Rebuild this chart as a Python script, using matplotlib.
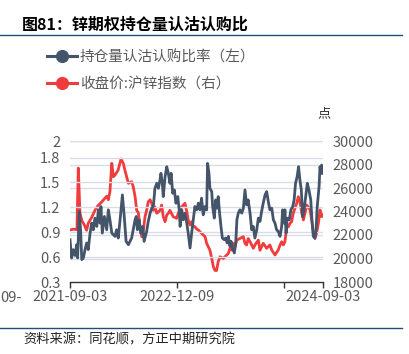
import matplotlib
matplotlib.use("Agg")
import matplotlib.pyplot as plt
from matplotlib.lines import Line2D
import pandas as pd

plt.rcParams['font.family'] = ['Noto Sans CJK SC', 'DejaVu Sans']

# 持仓量认沽认购比率（左轴）
ratio_dates = [
    "2021-09-03", "2021-09-10", "2021-09-17", "2021-09-25", "2021-10-02", "2021-10-06",
    "2021-10-13", "2021-10-19", "2021-10-24", "2021-10-31", "2021-11-07", "2021-11-14",
    "2021-11-21", "2021-11-29", "2021-12-06", "2021-12-13", "2021-12-20", "2021-12-28",
    "2022-01-04", "2022-01-11", "2022-01-15", "2022-01-21", "2022-01-30", "2022-02-09",
    "2022-02-16", "2022-02-23", "2022-03-03", "2022-03-17", "2022-03-24", "2022-03-31",
    "2022-04-08", "2022-04-18", "2022-04-26", "2022-05-04", "2022-05-14", "2022-05-28",
    "2022-06-04", "2022-06-12", "2022-06-17", "2022-06-22", "2022-06-30", "2022-07-06",
    "2022-07-15", "2022-07-21", "2022-08-01", "2022-08-08", "2022-08-16", "2022-08-23",
    "2022-08-30", "2022-09-06", "2022-09-14", "2022-09-21", "2022-09-28", "2022-10-02",
    "2022-10-08", "2022-10-12", "2022-10-20", "2022-10-27", "2022-11-03", "2022-11-10",
    "2022-11-15", "2022-11-22", "2022-11-29", "2022-12-06", "2022-12-14", "2022-12-20",
    "2022-12-24", "2022-12-31", "2023-01-07", "2023-01-14", "2023-01-22", "2023-01-28",
    "2023-02-05", "2023-02-12", "2023-02-19", "2023-02-26", "2023-03-06", "2023-03-13",
    "2023-03-20", "2023-03-27", "2023-04-03", "2023-04-11", "2023-04-18", "2023-04-22",
    "2023-04-28", "2023-05-02", "2023-05-10", "2023-05-14", "2023-05-21", "2023-05-27",
    "2023-06-02", "2023-06-07", "2023-06-13", "2023-06-19", "2023-06-25", "2023-07-03",
    "2023-07-09", "2023-07-16", "2023-07-21", "2023-07-28", "2023-08-02", "2023-08-07",
    "2023-08-16", "2023-08-22", "2023-08-27", "2023-09-02", "2023-09-09", "2023-09-17",
    "2023-09-24", "2023-10-01", "2023-10-08", "2023-10-15", "2023-10-23", "2023-10-30",
    "2023-11-06", "2023-11-13", "2023-11-21", "2023-11-28", "2023-12-05", "2023-12-12",
    "2023-12-19", "2023-12-27", "2024-01-03", "2024-01-10", "2024-01-17", "2024-01-25",
    "2024-02-01", "2024-02-08", "2024-02-15", "2024-02-22", "2024-03-01", "2024-03-08",
    "2024-03-12", "2024-03-18", "2024-03-22", "2024-03-27", "2024-04-01", "2024-04-10",
    "2024-04-17", "2024-04-25", "2024-05-01", "2024-05-07", "2024-05-14", "2024-05-20",
    "2024-05-26", "2024-06-01", "2024-06-07", "2024-06-13", "2024-06-20", "2024-06-27",
    "2024-07-04", "2024-07-12", "2024-07-17", "2024-07-23", "2024-07-30", "2024-08-04",
    "2024-08-09", "2024-08-17", "2024-08-21", "2024-08-25", "2024-08-28", "2024-09-03",
]
ratio_values = [
    0.81, 0.59, 0.69, 0.62, 0.75, 0.59,
    1.15, 0.92, 0.57, 0.59, 0.69, 0.77,
    0.69, 0.89, 1.01, 0.93, 1.07, 0.97,
    1.17, 1.01, 1.21, 0.89, 1.09, 0.93,
    1.17, 1.05, 0.89, 0.85, 0.93, 0.83,
    1.05, 1.35, 1.09, 0.79, 0.75, 0.83,
    0.93, 1.05, 1.09, 0.93, 1.05, 0.89,
    0.97, 0.79, 0.91, 1.03, 1.13, 1.19,
    1.21, 1.43, 1.49, 1.43, 1.53, 1.61,
    1.49, 1.33, 1.57, 1.69, 1.61, 1.49,
    1.61, 1.37, 1.41, 1.25, 1.33, 1.17,
    0.97, 1.17, 1.05, 1.13, 1.01, 0.89,
    0.71, 0.89, 1.05, 1.21, 1.17, 1.25,
    1.17, 1.31, 1.11, 1.21, 1.17, 1.73,
    1.61, 1.43, 1.39, 1.21, 1.07, 1.29,
    1.19, 1.33, 1.13, 0.97, 0.83, 0.81,
    0.83, 0.77, 0.85, 0.73, 0.79, 0.71,
    0.65, 0.77, 1.05, 1.13, 1.17, 1.13,
    1.19, 1.41, 1.23, 1.29, 1.13, 0.93,
    0.97, 0.83, 0.93, 1.07, 1.03, 1.15,
    1.25, 1.35, 1.39, 1.27, 1.17, 1.19,
    1.05, 1.01, 0.93, 0.91, 0.85, 0.97,
    1.17, 1.01, 1.17, 0.89, 1.07, 1.05,
    1.17, 1.21, 1.29, 1.49, 1.57, 1.69,
    1.53, 1.41, 1.09, 1.17, 1.33, 1.49,
    1.41, 1.29, 1.05, 0.85, 0.83, 0.93,
    1.21, 1.45, 1.69, 1.61, 1.71, 1.61,
]

# 收盘价:沪锌指数（右轴）
zinc_dates = [
    "2021-09-03", "2021-09-20", "2021-10-03", "2021-10-09", "2021-10-16", "2021-10-25",
    "2021-11-03", "2021-11-14", "2021-11-21", "2021-12-06", "2021-12-20", "2022-01-02",
    "2022-01-18", "2022-02-02", "2022-02-09", "2022-02-16", "2022-02-23", "2022-03-03",
    "2022-03-10", "2022-03-17", "2022-03-30", "2022-04-12", "2022-04-22", "2022-04-29",
    "2022-05-14", "2022-05-28", "2022-06-04", "2022-06-12", "2022-06-19", "2022-06-26",
    "2022-07-03", "2022-07-11", "2022-07-18", "2022-07-25", "2022-08-01", "2022-08-08",
    "2022-08-16", "2022-08-23", "2022-08-30", "2022-09-06", "2022-09-14", "2022-09-28",
    "2022-10-05", "2022-10-12", "2022-10-20", "2022-10-27", "2022-11-03", "2022-11-10",
    "2022-11-24", "2022-12-09", "2022-12-16", "2022-12-31", "2023-01-14", "2023-01-22",
    "2023-01-28", "2023-02-05", "2023-02-12", "2023-02-19", "2023-02-26", "2023-03-06",
    "2023-03-13", "2023-03-27", "2023-04-11", "2023-04-18", "2023-05-02", "2023-05-10",
    "2023-05-17", "2023-05-24", "2023-05-31", "2023-06-07", "2023-06-15", "2023-06-29",
    "2023-07-14", "2023-07-21", "2023-07-28", "2023-08-04", "2023-08-11", "2023-08-19",
    "2023-08-26", "2023-09-09", "2023-09-24", "2023-10-01", "2023-10-08", "2023-10-15",
    "2023-10-23", "2023-11-06", "2023-11-13", "2023-11-28", "2023-12-05", "2023-12-19",
    "2024-01-03", "2024-01-17", "2024-01-25", "2024-02-08", "2024-02-22", "2024-03-01",
    "2024-03-08", "2024-03-15", "2024-03-22", "2024-03-30", "2024-04-06", "2024-04-13",
    "2024-04-20", "2024-04-27", "2024-05-12", "2024-05-19", "2024-05-26", "2024-06-03",
    "2024-06-10", "2024-06-17", "2024-06-24", "2024-07-01", "2024-07-09", "2024-07-16",
    "2024-07-23", "2024-07-30", "2024-08-06", "2024-08-14", "2024-08-21", "2024-08-28",
    "2024-09-03",
]
zinc_values = [
    22430, 22500, 22450, 27700, 23870, 23200,
    22900, 22400, 23000, 23500, 24100, 24500,
    24800, 25150, 25300, 25000, 25700, 28100,
    26960, 27100, 27500, 28470, 28100, 27500,
    26400, 26540, 26100, 25260, 24100, 23900,
    22700, 21850, 22430, 23560, 24100, 24830,
    25000, 24700, 24100, 24400, 23850, 24100,
    24550, 23560, 23130, 23700, 23850, 24100,
    23560, 23420, 23850, 24400, 24700, 23990,
    23280, 22850, 23130, 22700, 22700, 22500,
    22430, 22140, 21860, 21290, 20720, 20000,
    19300, 18980, 18980, 19730, 20150, 20000,
    20300, 20440, 20870, 20720, 21290, 21000,
    21570, 21700, 21860, 21290, 21150, 21700,
    21430, 20870, 21150, 21570, 20700, 21290,
    20870, 21150, 20720, 20300, 20720, 21150,
    21430, 21150, 21430, 22700, 22700, 22990,
    23130, 23850, 24700, 25260, 24830, 23850,
    23280, 23850, 24550, 24400, 24130, 23280,
    22280, 21700, 22140, 23000, 24130, 23560,
    23700,
]

left_ticks = [0.3, 0.6, 0.9, 1.2, 1.5, 1.8, 2.0]
left_labels = ["0.3", "0.6", "0.9", "1.2", "1.5", "1.8", "2"]
right_ticks = [18000, 20000, 22000, 24000, 26000, 28000, 30000]
x_ticks = ["2021-09-03", "2022-12-09", "2024-03-16", "2024-09-03"]
x_labels = ["2021-09-03", "2022-12-09", "", "2024-09-03"]

BLUE = "#44546A"
RED = "#F03C3C"
GRID = "#DADDE8"
TXT = "#595959"

W, H = 409, 354
fig = plt.figure(figsize=(W / 100, H / 100), dpi=100)
ax = fig.add_axes([70 / W, 1 - 282 / H, 253 / W, 141 / H])
ax2 = ax.twinx()

rd = pd.to_datetime(ratio_dates)
zd = pd.to_datetime(zinc_dates)

ax.plot(rd, ratio_values, color=BLUE, lw=2.0, zorder=3)
ax2.plot(zd, zinc_values, color=RED, lw=2.0, zorder=3)
# blue drawn above red as in the original
ax.set_zorder(ax2.get_zorder() + 1)
ax.patch.set_visible(False)

ax.set_ylim(0.3, 2.0)
ax2.set_ylim(18000, 30000)
ax.set_xlim(pd.Timestamp("2021-09-03"), pd.Timestamp("2024-09-03"))

ax.set_yticks(left_ticks)
ax.set_yticklabels(left_labels)
ax2.set_yticks(right_ticks)

ax.set_xticks(pd.to_datetime(x_ticks))
ax.set_xticklabels(x_labels)

for a in (ax, ax2):
    for s in ("top", "left", "right", "bottom"):
        a.spines[s].set_visible(False)
    a.grid(axis="y", color=GRID, lw=1.0, zorder=0)
    a.tick_params(axis="y", length=0, labelsize=10.5, labelcolor=TXT, pad=7)
ax.spines["bottom"].set_visible(True)
ax.spines["bottom"].set_color("#333333")
ax.spines["bottom"].set_linewidth(1.0)
ax.tick_params(axis="x", length=4, width=1.0, color="#333333", labelsize=10.5,
               labelcolor=TXT, pad=2)
ax.grid(axis="x", visible=False)
# no gridline on the bottom axis
ax.yaxis.get_gridlines()[0].set_visible(False)
ax2.yaxis.get_gridlines()[0].set_visible(False)

# leftover date label at the left edge
fig.text(0, 1 - 298 / H, "09-", fontsize=10.5, color=TXT, ha="left", va="center")

# unit
fig.text(324 / W, 1 - 114 / H, "点", fontsize=9.5, color="#333333", ha="center", va="center")

# title and rules
fig.text(22 / W, 1 - 25 / H, "图81：锌期权持仓量认沽认购比", fontsize=11.5,
         fontweight="bold", color="#000000", ha="left", va="center")
fig.add_artist(Line2D([0, 402 / W], [1 - 34.5 / H] * 2, color="#1F4E79", lw=1.0))
fig.add_artist(Line2D([0, 402 / W], [1 - 328 / H] * 2, color="#1F4E79", lw=1.0))
fig.text(23 / W, 1 - 340 / H, "资料来源：同花顺，方正中期研究院", fontsize=9.5,
         style="italic", color="#222222", ha="left", va="center")

handles = [
    Line2D([], [], color=BLUE, lw=2.2, marker="o", markersize=8.5),
    Line2D([], [], color=RED, lw=2.2, marker="o", markersize=8.5),
]
fig.legend(handles, ["持仓量认沽认购比率（左）", "收盘价:沪锌指数（右）"],
           loc="upper left", bbox_to_anchor=(47 / W, 1 - 50 / H), frameon=False,
           fontsize=10.5, labelcolor=TXT, handlelength=2.05, handletextpad=0.2,
           labelspacing=0.85, borderaxespad=0, borderpad=0)

fig.savefig("out.png", dpi=100)
